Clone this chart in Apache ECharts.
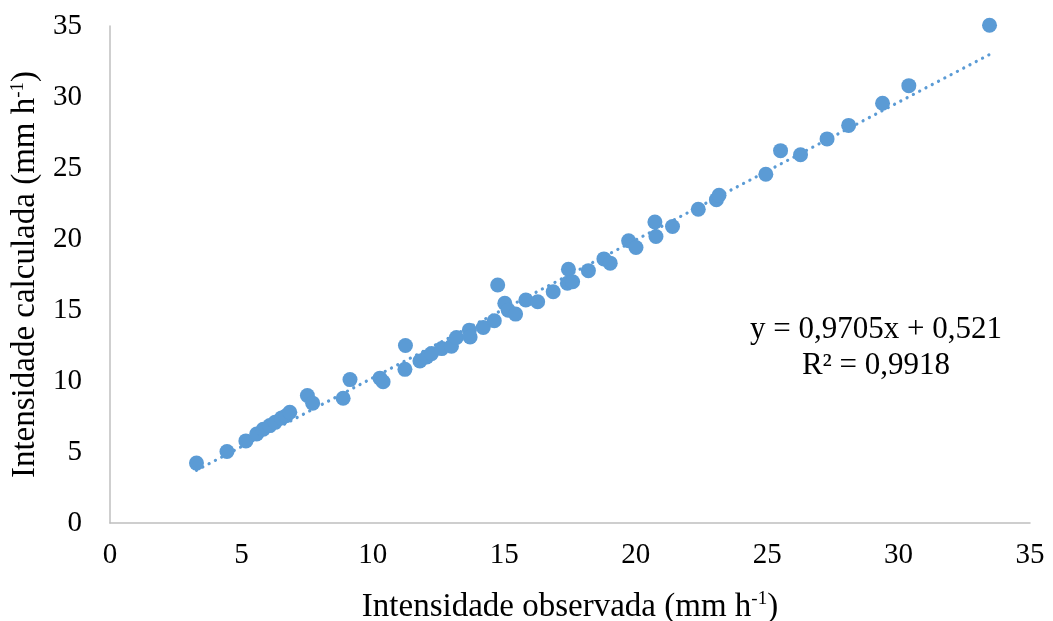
<!DOCTYPE html>
<html>
<head>
<meta charset="utf-8">
<script src="https://cdn.jsdelivr.net/npm/echarts@6/dist/echarts.min.js"></script>
<style>
  html, body { margin: 0; padding: 0; background: #ffffff; }
  #chart { width: 1053px; height: 621px; }
</style>
</head>
<body>
<div id="chart"></div>
<script>
// Observed vs. calculated rainfall intensity (mm h-1)
const observed = [
  3.29, 4.45, 5.17, 5.58, 5.83, 6.08, 6.28, 6.53, 6.70, 6.84,
  7.51, 7.71, 8.87, 9.13, 10.27, 10.39, 11.24, 11.22, 11.79, 12.05,
  12.23, 12.62, 12.99, 13.18, 13.67, 13.70, 14.20, 14.62, 14.75, 15.02,
  15.15, 15.43, 15.82, 16.27, 16.86, 17.44, 17.40, 17.60, 18.20, 18.79,
  19.03, 19.73, 20.01, 20.73, 20.77, 21.40, 22.38, 23.07, 23.17, 24.95,
  25.51, 26.27, 27.28, 28.10, 29.39, 30.39, 33.46
];
const calculated = [
  4.22, 5.04, 5.78, 6.27, 6.60, 6.86, 7.09, 7.40, 7.55, 7.80,
  8.98, 8.44, 8.79, 10.10, 10.20, 9.95, 12.50, 10.82, 11.41, 11.69,
  11.93, 12.28, 12.45, 13.06, 13.58, 13.10, 13.77, 14.24, 16.76, 15.47,
  14.99, 14.71, 15.70, 15.58, 16.29, 17.87, 16.88, 16.99, 17.77, 18.60,
  18.30, 19.88, 19.40, 21.20, 20.18, 20.88, 22.10, 22.77, 23.08, 24.56,
  26.22, 25.93, 27.05, 28.00, 29.56, 30.80, 35.05
];
const axisTicks = [0, 5, 10, 15, 20, 25, 30, 35];

// Linear trend: y = 0,9705x + 0,521 (R² = 0,9918)
const slope = 0.9705;
const intercept = 0.521;
const equationText = 'y = 0,9705x + 0,521';
const r2Text = 'R² = 0,9918';

const points = observed.map((x, i) => [x, calculated[i]]);
const xMin = Math.min(...observed);
const xMax = Math.max(...observed);
const trend = [xMin, xMax].map(x => [x, slope * x + intercept]);

const blue = '#5b9bd5';
const serif = '"Liberation Serif", "Times New Roman", serif';
const supStyle = { fontFamily: serif, fontSize: 19, color: '#000', verticalAlign: 'top', padding: [0, 0, 15, 0] };

const chart = echarts.init(document.getElementById('chart'));
chart.setOption({
  animation: false,
  backgroundColor: '#ffffff',
  grid: { left: 110, right: 23, top: 26, bottom: 98, outerBoundsMode: 'none', containLabel: false },
  xAxis: {
    type: 'value',
    min: axisTicks[0],
    max: axisTicks[axisTicks.length - 1],
    interval: 5,
    axisLine: { show: true, lineStyle: { color: '#bfbfbf', width: 1.5 } },
    axisTick: { show: false },
    splitLine: { show: false },
    axisLabel: { color: '#000', fontFamily: serif, fontSize: 29, margin: 18 },
    name: 'Intensidade observada (mm h{sup|-1})',
    nameLocation: 'middle',
    nameGap: 67,
    nameTextStyle: { color: '#000', fontFamily: serif, fontSize: 33, rich: { sup: supStyle } }
  },
  yAxis: {
    type: 'value',
    min: axisTicks[0],
    max: axisTicks[axisTicks.length - 1],
    interval: 5,
    axisLine: { show: true, lineStyle: { color: '#bfbfbf', width: 1.5 } },
    axisTick: { show: false },
    splitLine: { show: false },
    axisLabel: { color: '#000', fontFamily: serif, fontSize: 29, margin: 28 },
    name: 'Intensidade calculada (mm h{sup|-1})',
    nameLocation: 'middle',
    nameGap: 67,
    nameRotate: 90,
    nameTextStyle: { color: '#000', fontFamily: serif, fontSize: 33, rich: { sup: supStyle } }
  },
  series: [
    {
      type: 'line',
      data: trend,
      showSymbol: false,
      symbol: 'none',
      silent: true,
      lineStyle: { color: blue, width: 3.2, type: [0.1, 7], cap: 'round' },
      z: 1
    },
    {
      type: 'scatter',
      data: points,
      symbol: 'circle',
      symbolSize: 15,
      clip: false,
      itemStyle: { color: blue, opacity: 1 },
      z: 2
    }
  ],
  graphic: [
    {
      type: 'text',
      x: 876, y: 330,
      style: { text: equationText, font: '31px ' + serif, fill: '#000', align: 'center', verticalAlign: 'middle' }
    },
    {
      type: 'text',
      x: 876, y: 366,
      style: { text: r2Text, font: '31px ' + serif, fill: '#000', align: 'center', verticalAlign: 'middle' }
    }
  ]
});
</script>
</body>
</html>
